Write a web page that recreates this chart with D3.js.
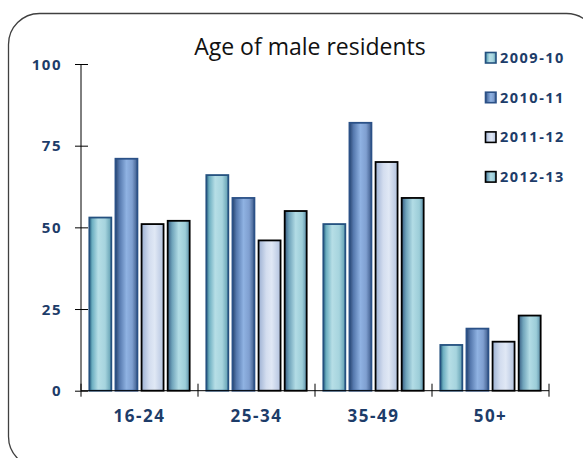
<!DOCTYPE html>
<html>
<head>
<meta charset="utf-8">
<script src="https://cdn.jsdelivr.net/npm/d3@7"></script>
<style>
  html, body { margin: 0; padding: 0; background: #fff; }
  svg { display: block; }
  .lbl { font-family: "Open Sans", sans-serif; font-weight: 700; fill: #1d3c69; letter-spacing: 1.5px; }
</style>
</head>
<body>
<svg id="chart" width="583" height="458"></svg>
<script>
// Age groups along the x axis
const categories = ["16-24", "25-34", "35-49", "50+"];
// Reporting years (one bar each per age group)
const seriesNames = ["2009-10", "2010-11", "2011-12", "2012-13"];
// Number of male residents, one array per year, in category order
const values2009 = [53, 66, 51, 14];
const values2010 = [71, 59, 82, 19];
const values2011 = [51, 46, 70, 15];
const values2012 = [52, 55, 59, 23];
const yTicks = [0, 25, 50, 75, 100];

const seriesValues = [values2009, values2010, values2011, values2012];

// Horizontal cylinder-like shading per series
const styles = [
  { stroke: "#24517f", stops: [["0%", "#2f6c88"], ["14%", "#6fb0c2"], ["40%", "#b6dee6"], ["72%", "#a6d4de"], ["100%", "#5f9db0"]] },
  { stroke: "#2b5187", stops: [["0%", "#2a4670"], ["18%", "#5578ad"], ["50%", "#8fb2e2"], ["76%", "#7f9fd0"], ["100%", "#3d5b8a"]] },
  { stroke: "#000000", stops: [["0%", "#9db1d3"], ["35%", "#d3ddef"], ["60%", "#e0e8f5"], ["100%", "#b3c3df"]] },
  { stroke: "#000000", stops: [["0%", "#355a80"], ["20%", "#6fa3ba"], ["50%", "#b2dce5"], ["80%", "#9ccdd8"], ["100%", "#5b8fa8"]] }
];

const svg = d3.select("#chart");
const defs = svg.append("defs");
styles.forEach((s, i) => {
  const g = defs.append("linearGradient").attr("id", "grad" + i)
    .attr("x1", "0%").attr("x2", "100%").attr("y1", "0%").attr("y2", "0%");
  s.stops.forEach(([o, c]) => g.append("stop").attr("offset", o).attr("stop-color", c));
});

// Rounded chart frame
svg.append("rect")
  .attr("x", 8.5).attr("y", 13.5).attr("width", 589).attr("height", 454)
  .attr("rx", 31).attr("ry", 31)
  .attr("fill", "none").attr("stroke", "#404040").attr("stroke-width", 1.3);

const plot = { left: 81, right: 549, top: 64, bottom: 390.7 };

const x0 = d3.scaleBand().domain(categories).range([plot.left, plot.right]).padding(0);
const x1 = d3.scaleBand().domain(d3.range(seriesNames.length))
  .range([0, x0.bandwidth()]).paddingInner(0.12).paddingOuter(0.3);
const y = d3.scaleLinear().domain([0, 100]).range([plot.bottom, plot.top]);

// Bars
const groups = svg.append("g").selectAll("g")
  .data(categories).join("g")
  .attr("transform", d => `translate(${x0(d)},0)`);

groups.selectAll("rect")
  .data((c, ci) => seriesValues.map((arr, si) => ({ si, v: arr[ci] })))
  .join("rect")
  .attr("x", d => x1(d.si) + 0.5)
  .attr("y", d => y(d.v))
  .attr("width", x1.bandwidth() - 1)
  .attr("height", d => y(0) - y(d.v))
  .attr("fill", d => `url(#grad${d.si})`)
  .attr("stroke", d => styles[d.si].stroke)
  .attr("stroke-width", 1.8);

// Y axis with ticks crossing the line
const yAxis = svg.append("g")
  .attr("transform", `translate(${plot.left},0)`)
  .call(d3.axisLeft(y).tickValues(yTicks).tickSize(6).tickPadding(13));
yAxis.select(".domain").attr("d", `M0,${plot.top}V${plot.bottom}`).attr("stroke", "#000");
yAxis.selectAll(".tick line").attr("x1", 7).attr("x2", -6).attr("stroke", "#000");
yAxis.selectAll(".tick text")
  .attr("class", "lbl").style("font-size", "15px").attr("dy", "0.34em");

// X axis: labels centred in each band, ticks at band edges
const xAxis = svg.append("g")
  .attr("transform", `translate(0,${plot.bottom})`)
  .call(d3.axisBottom(x0).tickSize(0).tickPadding(26));
xAxis.select(".domain").attr("d", `M${plot.left},0H${plot.right}`).attr("stroke", "#000");
xAxis.selectAll(".tick text").attr("class", "lbl").style("font-size", "17px").attr("dy", "0.3em");

const edges = categories.map(c => x0(c)).concat([x0(categories[categories.length - 1]) + x0.bandwidth()]);
xAxis.selectAll("line.edge").data(edges).join("line")
  .attr("class", "edge")
  .attr("x1", d => d).attr("x2", d => d)
  .attr("y1", -7).attr("y2", 6)
  .attr("stroke", "#000");

// Title
svg.append("text")
  .attr("x", 310).attr("y", 55)
  .attr("text-anchor", "middle")
  .style("font-family", "'Open Sans', sans-serif")
  .style("font-size", "23px")
  .attr("fill", "#111")
  .text("Age of male residents");

// Legend
const legend = svg.append("g").attr("transform", "translate(485,58)");
const items = legend.selectAll("g").data(seriesNames).join("g")
  .attr("transform", (d, i) => `translate(0,${i * 39.7})`);
items.append("rect")
  .attr("x", 0.5).attr("y", -5.5).attr("width", 10.5).attr("height", 10.5)
  .attr("fill", (d, i) => `url(#grad${i})`)
  .attr("stroke", (d, i) => styles[i].stroke).attr("stroke-width", 1.6);
items.append("text")
  .attr("class", "lbl").style("font-size", "14.5px")
  .attr("x", 15).attr("dy", "0.35em")
  .text(d => d);
</script>
</body>
</html>
